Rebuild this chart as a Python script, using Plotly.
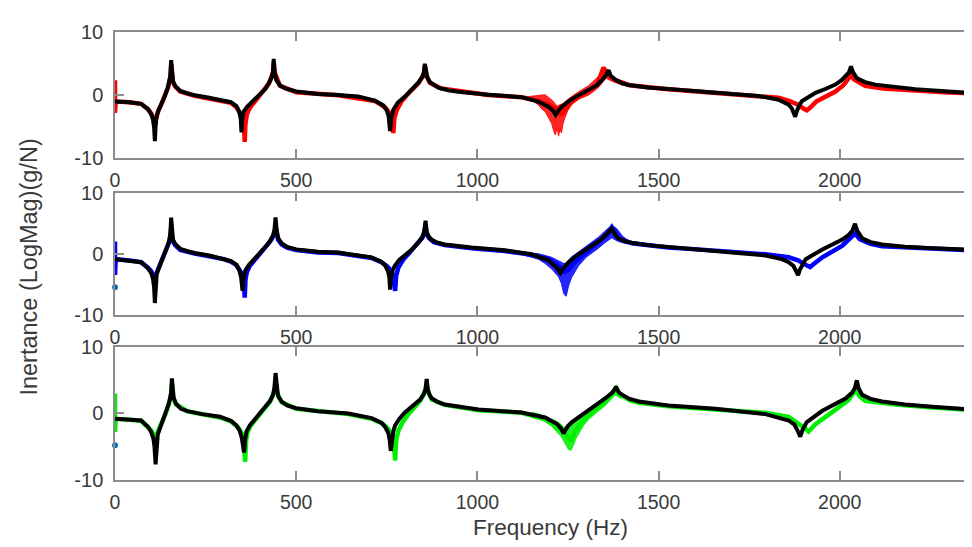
import plotly.graph_objects as go

# ---------------- data ----------------
# Panel 1 : model (black) and measured (red)
p1_black_f = [0, 40, 72, 91, 100, 105, 108, 110, 112, 115, 120, 128, 137, 146, 150, 153, 155, 157, 160, 166, 180, 200, 220, 260, 300, 320, 335, 343, 347, 349, 351, 355, 365, 380, 400, 415, 425, 432, 436, 438, 440, 445, 455, 470, 500, 560, 616, 671, 717, 740, 750, 755, 759, 763, 768, 780, 800, 820, 837, 848, 852, 855, 858, 862, 869, 880, 892, 920, 947, 1030, 1122, 1168, 1196, 1208, 1216, 1224, 1233, 1260, 1306, 1330, 1345, 1355, 1362, 1368, 1380, 1400, 1417, 1470, 1527, 1657, 1776, 1831, 1859, 1868, 1874, 1877, 1881, 1888, 1896, 1933, 1960, 1988, 2005, 2016, 2025, 2031, 2037, 2048, 2070, 2098, 2150, 2209, 2300, 2387]
p1_black_v = [-1.0, -1.1, -1.35, -2.2, -3.0, -3.9, -5.2, -7.3, -5.0, -3.2, -2.4, -1.4, -0.2, 1.3, 2.2, 3.2, 5.6, 3.2, 2.2, 1.5, 0.7, 0.3, 0.0, -0.4, -0.8, -1.1, -1.7, -2.6, -3.8, -5.9, -3.8, -2.6, -1.8, -1.0, 0.0, 1.0, 2.0, 2.8, 3.8, 5.8, 3.8, 2.4, 1.6, 1.1, 0.6, 0.2, 0.05, -0.2, -0.85, -1.6, -2.4, -3.3, -5.7, -3.4, -2.3, -1.2, -0.2, 0.9, 2.0, 2.9, 3.6, 5.0, 3.6, 2.8, 2.1, 1.6, 1.2, 0.8, 0.55, 0.1, -0.3, -1.0, -1.8, -2.4, -3.1, -2.4, -1.8, -0.6, 0.8, 1.6, 2.5, 3.2, 4.0, 3.1, 2.5, 1.9, 1.65, 1.25, 1.0, 0.5, -0.1, -0.7, -1.5, -2.1, -2.8, -3.4, -2.6, -1.6, -0.9, 0.4, 1.0, 1.7, 2.4, 3.0, 3.6, 4.6, 3.6, 2.7, 2.1, 1.7, 1.3, 0.95, 0.6, 0.3]
p1_meas_f = [0, 0, 2, 40, 72, 91, 100, 105, 108, 110, 112, 115, 120, 128, 137, 146, 150, 153, 155, 157, 160, 166, 180, 220, 300, 320, 335, 345, 352, 356, 358, 360, 364, 372, 385, 400, 425, 436, 438, 441, 455, 500, 616, 717, 745, 758, 764, 768, 771, 778, 790, 805, 837, 852, 855, 858, 869, 900, 1030, 1122, 1170, 1200, 1225, 1232, 1240, 1260, 1306, 1330, 1348, 1362, 1380, 1420, 1527, 1657, 1776, 1831, 1860, 1885, 1900, 1909, 1918, 1935, 1951, 1988, 2010, 2024, 2031, 2040, 2070, 2120, 2209, 2300, 2387]
p1_meas_v = [2.4, -2.8, -1.0, -1.1, -1.35, -2.2, -2.9, -3.6, -4.2, -4.8, -4.0, -3.1, -2.4, -1.4, -0.2, 1.2, 2.1, 3.0, 5.0, 3.0, 2.1, 1.4, 0.6, -0.1, -0.9, -1.2, -1.9, -2.8, -3.6, -5.0, -7.4, -4.5, -3.0, -2.0, -1.1, -0.1, 1.9, 3.6, 5.3, 3.6, 1.5, 0.5, 0.0, -0.9, -1.9, -2.8, -3.7, -6.0, -3.6, -2.3, -1.0, 0.0, 1.9, 3.3, 4.7, 3.3, 2.0, 1.1, 0.05, -0.3, -0.9, -1.6, -2.5, -3.2, -2.4, -1.0, 0.6, 1.6, 4.4, 3.2, 2.4, 1.6, 0.95, 0.45, -0.05, -0.4, -0.9, -1.5, -2.1, -2.4, -2.0, -1.0, -0.5, 0.6, 1.6, 2.6, 3.2, 2.5, 1.5, 1.1, 0.7, 0.45, 0.25]
p1_band_f = [1141, 1155, 1168, 1178, 1187, 1196, 1205, 1210, 1215, 1220, 1224, 1228, 1232, 1236, 1242, 1250, 1260, 1280, 1306, 1325, 1340, 1348, 1356, 1365, 1380, 1400]
p1_band_hi = [-0.2, -0.1, -0.1, 0.0, 0.1, -0.3, -0.7, -1.0, -1.4, -1.7, -1.6, -1.5, -1.4, -1.3, -1.0, -0.6, -0.2, 0.6, 1.5, 2.5, 3.4, 4.5, 4.2, 3.4, 2.8, 2.0]
p1_band_lo = [-0.6, -1.0, -1.5, -2.2, -2.6, -3.6, -4.5, -5.6, -6.3, -5.2, -6.5, -5.4, -6.0, -4.6, -3.5, -2.4, -1.5, -0.6, 0.0, 0.8, 1.6, 2.3, 2.7, 2.4, 2.0, 1.6]

# Panel 2 : model (black) and measured (blue)
p2_black_f = [0, 40, 72, 91, 100, 105, 108, 110, 112, 115, 120, 128, 137, 146, 150, 153, 155, 157, 160, 166, 180, 200, 220, 260, 300, 320, 335, 343, 348, 352, 355, 360, 370, 385, 400, 415, 428, 436, 440, 443, 446, 450, 460, 475, 500, 560, 616, 708, 735, 745, 753, 757, 759, 762, 767, 773, 785, 800, 820, 837, 848, 853, 857, 860, 866, 873, 890, 910, 984, 1076, 1150, 1196, 1212, 1219, 1224, 1229, 1235, 1242, 1252, 1279, 1310, 1334, 1352, 1362, 1371, 1378, 1389, 1405, 1426, 1470, 1527, 1657, 1795, 1840, 1859, 1872, 1880, 1885, 1890, 1897, 1906, 1952, 1980, 2007, 2025, 2035, 2042, 2048, 2062, 2085, 2117, 2180, 2256, 2387]
p2_black_v = [-0.9, -1.1, -1.4, -2.4, -3.2, -4.2, -5.6, -8.1, -5.4, -3.4, -2.5, -1.4, -0.2, 1.4, 2.3, 3.4, 5.9, 3.4, 2.3, 1.6, 0.8, 0.4, 0.1, -0.3, -0.8, -1.2, -1.8, -2.7, -3.9, -6.1, -3.9, -2.7, -1.8, -0.9, 0.0, 1.1, 2.1, 3.0, 3.9, 5.95, 3.9, 2.6, 1.7, 1.1, 0.7, 0.3, 0.2, -0.6, -1.3, -1.9, -2.8, -3.8, -5.9, -3.8, -2.6, -1.9, -1.0, -0.3, 0.7, 1.8, 2.7, 3.6, 5.4, 3.6, 2.8, 2.3, 1.8, 1.5, 1.0, 0.55, -0.1, -1.1, -1.8, -2.3, -2.8, -3.2, -2.6, -2.0, -1.4, -0.1, 1.0, 2.0, 2.9, 3.5, 4.1, 3.3, 2.5, 2.1, 1.8, 1.4, 1.1, 0.55, -0.3, -0.9, -1.4, -2.0, -2.8, -3.5, -2.6, -1.7, -0.9, 0.7, 1.5, 2.3, 3.1, 3.8, 4.9, 3.8, 2.5, 1.9, 1.5, 1.15, 0.9, 0.55]
p2_meas_f = [0, 0, 2, 40, 72, 91, 100, 106, 111, 114, 120, 128, 137, 146, 150, 153, 155, 157, 160, 166, 180, 220, 260, 300, 320, 335, 345, 352, 356, 358, 360, 364, 372, 385, 400, 415, 428, 436, 440, 443, 446, 450, 460, 475, 500, 560, 616, 708, 735, 750, 762, 768, 773, 776, 782, 795, 810, 837, 848, 853, 857, 860, 866, 880, 910, 984, 1076, 1150, 1196, 1219, 1240, 1252, 1265, 1290, 1334, 1360, 1371, 1378, 1389, 1426, 1527, 1657, 1795, 1859, 1885, 1905, 1918, 1930, 1952, 2007, 2030, 2042, 2055, 2085, 2117, 2256, 2387]
p2_meas_v = [2.0, -3.5, -0.9, -1.1, -1.4, -2.3, -2.9, -3.6, -4.2, -3.3, -2.4, -1.5, -0.3, 1.2, 2.0, 2.8, 4.4, 2.8, 2.0, 1.4, 0.6, 0.0, -0.4, -0.9, -1.3, -1.9, -2.8, -3.5, -5.0, -7.2, -4.3, -3.0, -2.0, -1.1, -0.1, 1.0, 2.0, 2.8, 3.3, 4.5, 3.2, 2.3, 1.5, 1.0, 0.6, 0.2, 0.1, -0.7, -1.4, -2.0, -2.8, -3.8, -6.1, -3.6, -2.3, -1.0, 0.0, 1.7, 2.6, 3.3, 4.6, 3.3, 2.6, 1.9, 1.4, 0.9, 0.45, -0.2, -0.9, -1.8, -3.0, -2.6, -1.6, -0.3, 1.8, 3.2, 4.3, 3.6, 2.5, 1.7, 1.0, 0.5, -0.1, -0.6, -1.1, -1.8, -2.2, -1.6, -0.6, 1.3, 2.5, 3.3, 2.4, 1.6, 1.2, 0.75, 0.5]
p2_band_f = [1131, 1150, 1168, 1187, 1205, 1215, 1224, 1232, 1238, 1245, 1252, 1260, 1270, 1279, 1300, 1334, 1350, 1360, 1371, 1385, 1400, 1415]
p2_band_hi = [0.1, 0.0, 0.0, -0.3, -0.6, -0.9, -1.2, -1.5, -1.6, -1.5, -1.0, -0.5, -0.1, 0.3, 1.2, 2.7, 3.6, 4.2, 4.7, 4.1, 2.9, 2.2]
p2_band_lo = [-0.3, -0.6, -0.9, -1.6, -2.5, -3.2, -3.8, -4.9, -6.5, -7.0, -5.2, -3.9, -2.8, -2.0, -0.6, 0.9, 1.7, 2.2, 2.6, 2.1, 1.8, 1.6]
p2_dot_f = [0]
p2_dot_v = [-5.5]

# Panel 3 : model (black) and measured (green)
p3_black_f = [0, 40, 72, 91, 100, 106, 109, 112, 115, 118, 123, 131, 140, 148, 152, 155, 157, 159, 162, 168, 182, 200, 240, 290, 320, 335, 344, 350, 353, 356, 359, 363, 372, 385, 400, 415, 428, 436, 440, 443, 446, 450, 460, 475, 500, 560, 644, 708, 735, 745, 754, 758, 761, 764, 768, 773, 785, 800, 820, 842, 852, 857, 860, 863, 868, 874, 890, 910, 1003, 1122, 1187, 1219, 1230, 1235, 1238, 1243, 1250, 1261, 1307, 1340, 1360, 1373, 1383, 1390, 1400, 1420, 1446, 1527, 1657, 1795, 1859, 1875, 1883, 1891, 1897, 1903, 1909, 1952, 1985, 2017, 2035, 2042, 2047, 2052, 2062, 2085, 2117, 2180, 2256, 2387]
p3_black_v = [-0.8, -0.95, -1.06, -2.0, -2.8, -3.8, -5.0, -7.7, -5.0, -3.2, -2.4, -1.2, 0.0, 1.4, 2.3, 3.3, 5.3, 3.3, 2.3, 1.5, 0.7, 0.35, -0.1, -0.5, -1.1, -1.8, -2.6, -3.7, -4.8, -5.9, -4.0, -2.7, -1.8, -0.9, 0.0, 1.0, 1.9, 2.8, 3.9, 6.1, 3.9, 2.6, 1.8, 1.2, 0.8, 0.35, 0.0, -0.7, -1.4, -2.0, -2.9, -4.0, -5.65, -3.9, -2.7, -1.8, -0.8, 0.15, 1.1, 2.1, 2.9, 3.7, 5.2, 3.7, 2.8, 2.3, 1.75, 1.35, 0.6, 0.15, -0.6, -1.55, -2.2, -2.7, -3.0, -2.5, -1.9, -1.3, 0.6, 1.8, 2.6, 3.2, 4.0, 3.2, 2.8, 2.2, 1.8, 1.2, 0.7, -0.1, -1.06, -1.7, -2.5, -3.5, -2.5, -1.8, -1.3, 0.4, 1.3, 2.3, 3.2, 3.9, 5.0, 3.8, 2.8, 2.2, 1.8, 1.35, 1.0, 0.5]
p3_meas_f = [0, 0, 2, 40, 72, 91, 100, 108, 112, 116, 123, 131, 140, 148, 155, 157, 160, 168, 200, 290, 320, 340, 350, 356, 359, 362, 366, 375, 390, 405, 428, 440, 443, 446, 460, 500, 644, 708, 740, 755, 765, 770, 773, 776, 782, 795, 810, 842, 857, 860, 863, 874, 910, 1003, 1122, 1187, 1219, 1237, 1251, 1258, 1265, 1279, 1307, 1353, 1375, 1383, 1392, 1420, 1446, 1527, 1657, 1721, 1794, 1859, 1886, 1905, 1914, 1922, 1933, 1979, 2024, 2043, 2055, 2070, 2162, 2256, 2387]
p3_meas_v = [3.0, -2.8, -0.8, -0.95, -1.1, -2.1, -2.6, -3.4, -4.0, -3.0, -2.2, -1.2, 0.0, 1.3, 2.8, 4.5, 2.6, 1.4, 0.3, -0.6, -1.2, -2.1, -3.0, -4.2, -7.3, -4.0, -2.8, -1.8, -0.8, 0.1, 1.8, 3.3, 4.8, 3.3, 1.7, 0.7, -0.1, -0.8, -1.6, -2.4, -3.4, -4.6, -7.1, -4.0, -2.6, -1.2, -0.1, 1.9, 3.5, 4.6, 3.4, 2.1, 1.3, 0.5, 0.1, -0.9, -2.0, -2.8, -3.6, -4.2, -3.2, -1.9, -0.2, 1.9, 3.3, 3.8, 3.0, 2.0, 1.6, 1.1, 0.6, 0.4, 0.1, -0.5, -1.5, -2.3, -2.75, -2.3, -1.6, 0.2, 2.0, 3.5, 2.6, 1.9, 1.3, 0.9, 0.45]
p3_band_f = [1150, 1170, 1187, 1205, 1219, 1230, 1237, 1244, 1251, 1258, 1265, 1272, 1279, 1293, 1307, 1330, 1353, 1370, 1380, 1390, 1398]
p3_band_hi = [0.2, -0.1, -0.5, -0.9, -1.2, -1.6, -2.0, -2.1, -2.0, -1.7, -1.2, -0.9, -0.6, 0.0, 0.6, 1.4, 2.3, 3.3, 4.2, 3.6, 3.0]
p3_band_lo = [-0.1, -0.5, -1.0, -1.8, -2.8, -3.4, -4.0, -4.8, -5.4, -5.6, -4.8, -3.8, -3.0, -1.8, -0.9, 0.2, 1.2, 2.2, 2.8, 2.5, 2.2]
p3_dot_f = [0]
p3_dot_v = [-4.8]

x_tick_vals = [0, 500, 1000, 1500, 2000]
x_tick_text = ["0", "500", "1000", "1500", "2000"]
y_tick_vals = [-10, 0, 10]
y_tick_text = ["-10", "0", "10"]
x_title = "Frequency (Hz)"
y_title = "Inertance (LogMag)(g/N)"

# ---------------- figure ----------------
FONT = "Liberation Sans, Arial, sans-serif"
AXC = "#8c8c8c"
TXT = "#3a3a3a"

panels = [
    (p1_black_f, p1_black_v, p1_meas_f, p1_meas_v, p1_band_f, p1_band_hi, p1_band_lo, "#ff0000", "rgba(255,0,0,0.85)", None, None),
    (p2_black_f, p2_black_v, p2_meas_f, p2_meas_v, p2_band_f, p2_band_hi, p2_band_lo, "#0000ff", "rgba(0,0,255,0.85)", p2_dot_f, p2_dot_v),
    (p3_black_f, p3_black_v, p3_meas_f, p3_meas_v, p3_band_f, p3_band_hi, p3_band_lo, "#00ee00", "rgba(0,238,0,0.85)", p3_dot_f, p3_dot_v),
]

fig = go.Figure()
for i, (bf, bv, mf, mv, nf, nhi, nlo, col, fcol, df, dv) in enumerate(panels):
    sx = "x" if i == 0 else f"x{i+1}"
    sy = "y" if i == 0 else f"y{i+1}"
    fig.add_trace(go.Scatter(x=nf + nf[::-1], y=nhi + nlo[::-1], fill="toself",
                             fillcolor=fcol, line=dict(color=fcol, width=1),
                             mode="lines", xaxis=sx, yaxis=sy, hoverinfo="skip"))
    fig.add_trace(go.Scatter(x=mf, y=mv, mode="lines", line=dict(color=col, width=4.5),
                             xaxis=sx, yaxis=sy))
    fig.add_trace(go.Scatter(x=bf, y=bv, mode="lines", line=dict(color="#000000", width=4),
                             xaxis=sx, yaxis=sy))
    if df is not None:
        fig.add_trace(go.Scatter(x=df, y=dv, mode="markers", cliponaxis=False,
                                 marker=dict(color="#0072BD", size=6),
                                 xaxis=sx, yaxis=sy))
    # mirrored tick marks on the right-hand side (the right border lies just outside the image)
    for tv in y_tick_vals:
        fig.add_shape(type="line", xref=f"{sx} domain", yref=sy, x0=0.9895, x1=1.0, y0=tv, y1=tv,
                      line=dict(color=AXC, width=1.5))

H = 547.0
y_domains = [(1 - 145 / H, 1 - 14 / H), (1 - 308 / H, 1 - 181 / H), (1 - 480 / H, 1 - 342 / H)]

layout = dict(
    width=972, height=547,
    margin=dict(l=107, r=0, t=0, b=0),
    paper_bgcolor="white", plot_bgcolor="white",
    showlegend=False,
    font=dict(family=FONT, color=TXT, size=19.5),
)
for i in range(3):
    xs = "xaxis" if i == 0 else f"xaxis{i+1}"
    ys = "yaxis" if i == 0 else f"yaxis{i+1}"
    layout[xs] = dict(domain=[0, 1], range=[0, 2387], anchor="y" if i == 0 else f"y{i+1}",
                      tickvals=x_tick_vals, ticktext=x_tick_text, ticks="inside", ticklen=9,
                      tickwidth=1.5, tickcolor=AXC, showline=True, linecolor=AXC, linewidth=1.5,
                      mirror="ticks", showgrid=False, zeroline=False,
                      tickfont=dict(family=FONT, color=TXT, size=19.5), ticklabelstandoff=4)
    layout[ys] = dict(domain=list(y_domains[i]), range=[-10, 10], anchor="x" if i == 0 else f"x{i+1}",
                      tickvals=y_tick_vals, ticktext=y_tick_text, ticks="inside", ticklen=9,
                      tickwidth=1.5, tickcolor=AXC, showline=True, linecolor=AXC, linewidth=1.5,
                      mirror=False, showgrid=False, zeroline=False,
                      tickfont=dict(family=FONT, color=TXT, size=20), ticklabelstandoff=6)
fig.update_layout(**layout)

fig.add_annotation(text=x_title, xref="paper", yref="paper", x=(542 - 107) / 865, y=1 - 530 / H,
                   showarrow=False, font=dict(family=FONT, color=TXT, size=22.5),
                   xanchor="center", yanchor="middle")
fig.add_annotation(text=y_title, xref="paper", yref="paper", x=(21 - 107) / 865, y=1 - 259 / H,
                   textangle=-90, showarrow=False, font=dict(family=FONT, color=TXT, size=23.5),
                   xanchor="center", yanchor="middle")

fig.write_html("out.html")
